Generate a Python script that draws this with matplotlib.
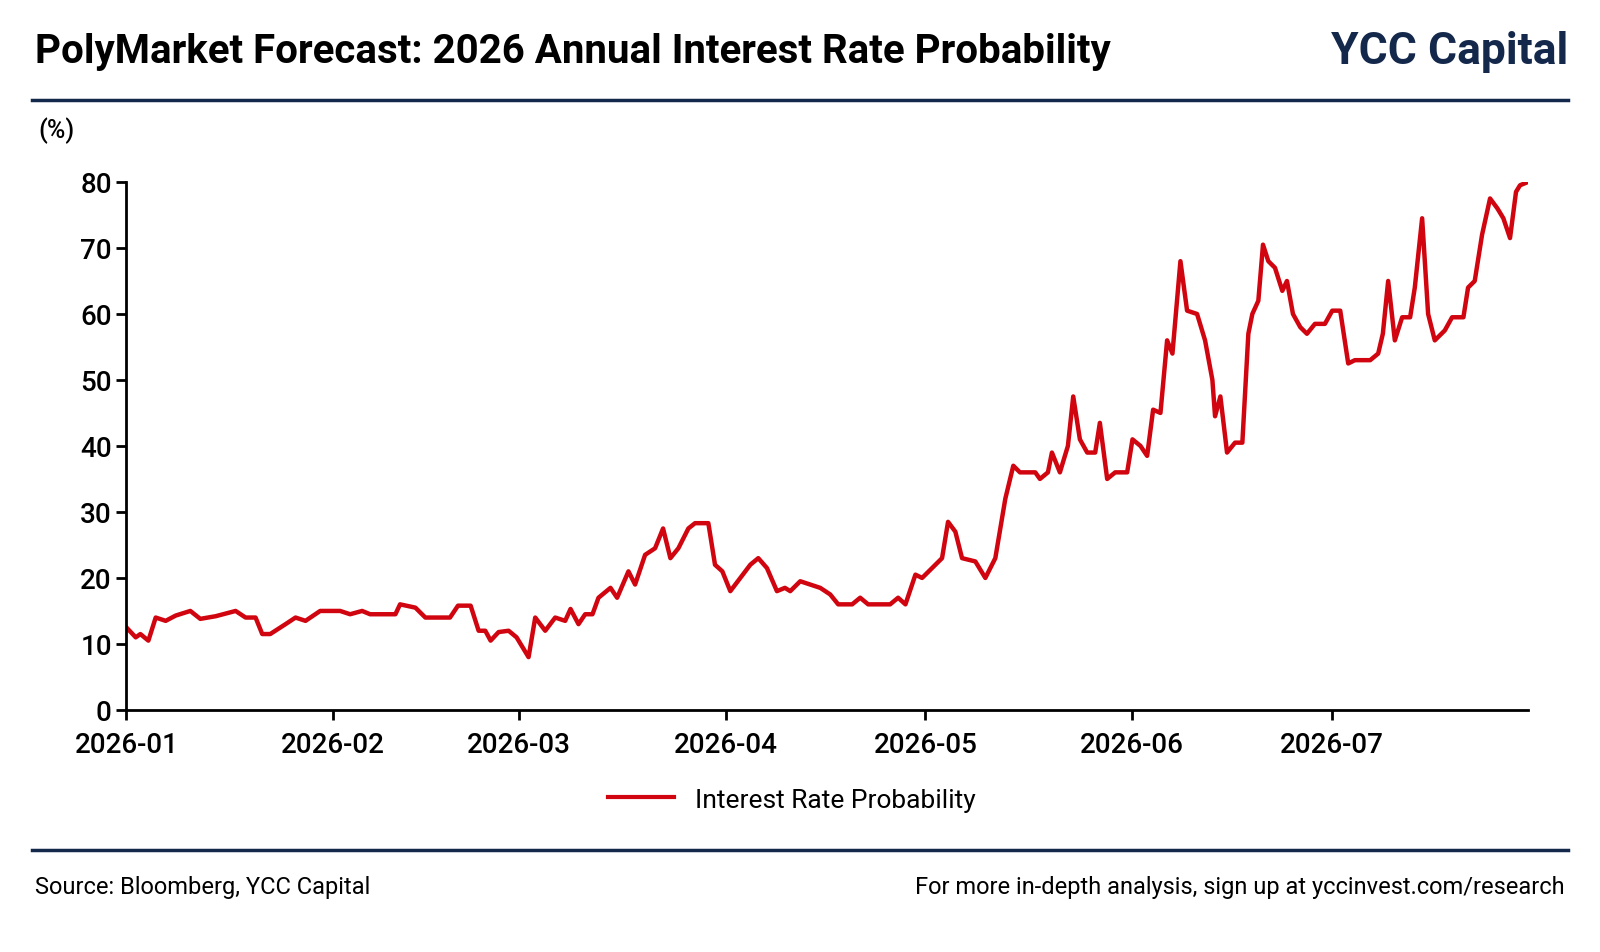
import matplotlib
matplotlib.use("Agg")
import matplotlib.pyplot as plt
import matplotlib.dates as mdates
import pandas as pd
from matplotlib.lines import Line2D
from matplotlib import font_manager

names = {f.name for f in font_manager.fontManager.ttflist}
title_font = "Liberation Sans Narrow" if "Liberation Sans Narrow" in names else "Roboto"
plt.rcParams["font.family"] = ["Roboto", "DejaVu Sans"]

day_offsets = [0,1.4,2.1,3.3,4.4,5.9,7.4,9.6,11.1,13.4,16.4,17.9,19.4,20.4,21.6,23.9,25.4,26.9,29.1,32.1,
 33.6,35.4,36.6,40.4,41.1,43.4,44.9,48.6,49.8,51.7,52.9,53.9,54.7,55.9,57.4,58.6,60.4,61.4,62.9,64.4,
 65.9,66.7,67.9,68.9,70,70.9,72.7,73.7,75.4,76.4,77.9,79.4,80.6,81.7,82.9,84.4,85.4,87.4,88.4,89.5,
 90.7,92.2,93.7,94.9,96.2,97.7,98.9,99.7,101.2,102.7,104.2,105.7,106.9,109,110.2,111.4,114.7,115.9,117,118.5,
 119.5,121.5,122.5,123.4,124.5,125.5,127.5,129,130.5,132,133.2,134.2,136.5,137.2,138.4,139,140.2,141.4,142.2,143.2,
 144.3,145.5,146.2,147.3,148.5,150.3,151.1,152.3,153.3,154.2,155.3,156.3,157.1,158.3,159.3,160.8,162,163.1,163.5,164.3,
 165.3,166.5,167.6,168.5,169.1,170,170.7,171.5,172.5,173.6,174.3,175.2,176.3,177.3,178.5,180,181.1,182.3,183.5,184.5,
 186.8,188,188.7,189.5,190.5,191.6,192.8,193.5,194.6,195.5,196.5,198,199.1,200.8,201.5,202.5,203.6,204.8,205.9,206.8,
 207.8,208.7,209.3,210.5]
values = [12.5,11,11.5,10.5,14,13.5,14.3,15,13.8,14.2,15,14,14,11.5,11.5,13,14,13.5,15,15,
 14.5,15,14.5,14.5,16,15.5,14,14,15.8,15.8,12,12,10.5,11.8,12,11,8,14,12,14,
 13.5,15.3,13,14.5,14.5,17,18.5,17,21,19,23.5,24.5,27.5,23,24.5,27.5,28.3,28.3,22,21,
 18,20,22,23,21.5,18,18.5,18,19.5,19,18.5,17.5,16,16,17,16,16,17,16,20.5,
 20,22,23,28.5,27,23,22.5,20,23,32,37,36,36,35,36,39,36,40,47.5,41,
 39,39,43.5,35,36,36,41,40,38.5,45.5,45,56,54,68,60.5,60,56,50,44.5,47.5,
 39,40.5,40.5,57,60,62,70.5,68,67,63.5,65,60,58,57,58.5,58.5,60.5,60.5,52.5,53,
 53,54,57,65,56,59.5,59.5,64,74.5,60,56,57.5,59.5,59.5,64,65,72,77.5,76,74.5,
 71.5,78.5,79.5,80]
month_ticks = ["2026-01","2026-02","2026-03","2026-04","2026-05","2026-06","2026-07"]
y_ticks = [0,10,20,30,40,50,60,70,80]

start = pd.Timestamp("2026-01-01")
dates = [start + pd.Timedelta(days=d) for d in day_offsets]

navy = "#14284b"
red = "#d0050f"
fig = plt.figure(figsize=(16, 9.53), dpi=100)
ax = fig.add_axes([0.079, 0.254, 0.876, 0.554])
ax.plot(dates, values, color=red, lw=3.2, solid_joinstyle="round")
ax.set_xlim(dates[0], dates[-1])
ax.set_ylim(0, 80)
ax.set_yticks(y_ticks)
ax.set_xticks([pd.Timestamp(m + "-01") for m in month_ticks])
ax.xaxis.set_major_formatter(mdates.DateFormatter("%Y-%m"))
for s in ["top", "right"]:
    ax.spines[s].set_visible(False)
for s in ["left", "bottom"]:
    ax.spines[s].set_linewidth(2)
ax.tick_params(axis="both", labelsize=20, width=2, length=7, direction="out")
for lab in ax.get_xticklabels() + ax.get_yticklabels():
    lab.set_fontweight("medium")
ax.tick_params(axis="x", pad=8)
ax.text(-0.063, 1.085, "(%)", transform=ax.transAxes, fontsize=18, ha="left", fontweight="medium")

fig.text(0.022, 0.945, "PolyMarket Forecast: 2026 Annual Interest Rate Probability",
         fontsize=29, fontweight="bold", va="center", ha="left", family=[title_font, "DejaVu Sans"])
fig.text(0.98, 0.945, "YCC Capital", fontsize=32, fontweight="bold", color=navy,
         va="center", ha="right", family=[title_font, "DejaVu Sans"])
fig.add_artist(Line2D([0.02, 0.98], [0.894, 0.894], color=navy, lw=2.5))
fig.add_artist(Line2D([0.02, 0.98], [0.107, 0.107], color=navy, lw=2.5))
fig.legend([Line2D([], [], color=red, lw=3)], ["Interest Rate Probability"],
           loc="center", bbox_to_anchor=(0.495, 0.16), frameon=False, fontsize=19,
           handlelength=2.5)
fig.text(0.022, 0.069, "Source: Bloomberg, YCC Capital", fontsize=17, va="center")
fig.text(0.978, 0.069, "For more in-depth analysis, sign up at yccinvest.com/research",
         fontsize=17, va="center", ha="right")
fig.savefig("out.png", dpi=100, facecolor="white")
